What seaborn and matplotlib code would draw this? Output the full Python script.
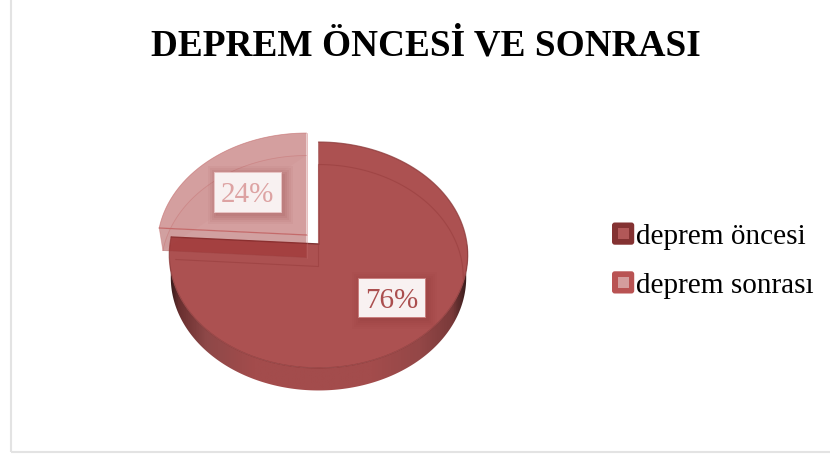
import numpy as np
import matplotlib
matplotlib.use("Agg")
import matplotlib.pyplot as plt
from matplotlib.colors import LinearSegmentedColormap
from matplotlib.legend_handler import HandlerBase
from matplotlib.lines import Line2D
from matplotlib.patches import FancyBboxPatch, Polygon, Rectangle
import seaborn as sns

# Survey shares
categories = ["deprem öncesi", "deprem sonrası"]
shares = [76, 24]
value_labels = ["76%", "24%"]
chart_title = "DEPREM ÖNCESİ VE SONRASI"

sns.set_theme(style="white")
plt.rcParams["font.family"] = ["Liberation Serif", "DejaVu Serif"]

MAIN = "#AC5151"
MAIN_LINE = "#8C3A3A"
LIGHT = "#D29A9A"
LIGHT_LINE = "#C46A6A"
LABEL_COLORS = ["#AB4F4F", "#DDA3A3"]
SWATCHES = [("#843232", "#B25858"), ("#B95353", "#D49D9D")]
SIDE_CMAP = LinearSegmentedColormap.from_list(
    "rim",
    [(0.0, "#3A1C1C"), (0.03, "#6A3030"), (0.12, "#8E4848"), (0.28, "#A34C4C"),
     (0.68, "#A34C4C"), (0.84, "#944747"), (0.95, "#7A3A3A"), (1.0, "#351A1A")])

fig = plt.figure(figsize=(8.3, 4.54), dpi=100)
ax = fig.add_axes([0, 0, 1, 1])
ax.axis("off")

# Slice angles come from pie(); the flat wedges are then tilted into a perspective disc
helper = fig.add_axes([0, 0, 0.01, 0.01])
wedges, _ = helper.pie(shares, startangle=90, counterclock=False)
angles = [(w.theta2, w.theta1) for w in wedges]
helper.remove()

CX, CY, RX, A, B = 318.5, 244.0, 148.5, 111.9, 0.0973
DEPTH = 22.5


def tilt(pts, dx=0.0, dy=0.0, shrink=1.0):
    u, v = pts[:, 0], pts[:, 1]
    d = 1 + B * v
    return np.column_stack([CX + dx + shrink * RX * u / d, CY + dy - A * v / d])


def wedge_outline(start, end, n=240):
    t = np.radians(np.linspace(start, end, n))
    return np.vstack([[0, 0], np.column_stack([np.cos(t), np.sin(t)])])


main_flat = wedge_outline(*angles[0])
small_flat = wedge_outline(*angles[1])

# Rim of the large slice: a horizontal gradient clipped to the band below the front edge
front = np.radians(np.linspace(angles[0][0] - 90, angles[0][1], 300))
front = front[(np.sin(front) < 0.03)]
front_flat = np.column_stack([np.cos(front), np.sin(front)])
rim_poly = np.vstack([tilt(front_flat), tilt(front_flat, dy=DEPTH, shrink=0.99)[::-1]])
gradient = ax.imshow(np.linspace(0, 1, 400).reshape(1, -1), cmap=SIDE_CMAP, aspect="auto",
                     extent=(CX - RX, CX + RX, 400, 230), zorder=2)
gradient.set_clip_path(Polygon(rim_poly, closed=True, transform=ax.transData))

ax.set_xlim(0, 830)
ax.set_ylim(454, 0)

# Chart frame: only the left and bottom edges are in view
ax.plot([11, 11], [0, 452], color="#E3E3E3", lw=1.5, solid_capstyle="butt")
ax.plot([11, 830], [452, 452], color="#E3E3E3", lw=1.5, solid_capstyle="butt")

# Large slice: top surface, then the faint outline of its underside
ax.add_patch(Polygon(tilt(main_flat), closed=True, fc=MAIN, ec="none", zorder=3))
ax.plot(*tilt(main_flat[1:]).T, color=MAIN_LINE, lw=0.9, alpha=0.75, zorder=4)
ax.plot(*tilt(main_flat[[0, -1]]).T, color="#7E3232", lw=1.0, zorder=4)
ax.plot(*tilt(main_flat[[0, 1]]).T, color=MAIN_LINE, lw=0.6, alpha=0.5, zorder=4)
under = tilt(main_flat, dy=DEPTH, shrink=0.97)
ax.plot(*under[np.r_[len(main_flat) - 1, 0, 1:86]].T, color="#983E3E", lw=0.8, alpha=0.6, zorder=4)

# Small slice pulled out of the disc, see-through where it crosses the large one
OFF = (-12.0, -9.0)
s_top = tilt(small_flat, dx=OFF[0], dy=OFF[1])
s_bot = tilt(small_flat, dx=OFF[0], dy=OFF[1] + DEPTH, shrink=0.975)
wall = np.vstack([s_top[[0, 1]], s_bot[[1, 0]]])
ax.add_patch(Polygon(wall, closed=True, fc=(155 / 255, 45 / 255, 45 / 255), ec="none", alpha=0.45, zorder=5))
ax.add_patch(Polygon(s_top, closed=True, fc=LIGHT, ec="none", alpha=0.95, zorder=5))
ax.add_patch(Polygon(s_bot[1:], closed=True, fc="#B55C5C", ec="none", alpha=0.05, zorder=5))
ax.plot(*s_top[[0, 1]].T, color=LIGHT_LINE, lw=0.9, zorder=6)
ax.plot(*s_top[1:].T, color=LIGHT_LINE, lw=0.6, alpha=0.6, zorder=6)
ax.plot(*s_top[[-1, 0]].T, color=LIGHT_LINE, lw=0.6, alpha=0.5, zorder=6)
ax.plot(*s_bot[1:].T, color=LIGHT_LINE, lw=0.6, alpha=0.4, zorder=6)
ax.plot(*s_bot[[0, 1]].T, color="#993F3F", lw=0.6, alpha=0.4, zorder=6)
ax.plot(*np.vstack([s_top[0], s_bot[0]]).T, color=LIGHT_LINE, lw=0.6, alpha=0.4, zorder=6)
ax.plot(*np.vstack([s_top[1], s_bot[1]]).T, color=LIGHT_LINE, lw=0.6, alpha=0.4, zorder=6)

# Value labels on soft-shadowed plates
plates = [(358, 278, 67, 39), (214, 172, 67, 40)]
plate_edges = ["#C98080", "#E8C4C4"]
for (x, y, w, h), txt, col, edge in zip(plates, value_labels, LABEL_COLORS, plate_edges):
    for grow, alpha in zip([9, 7, 5, 3, 1], [0.05, 0.06, 0.07, 0.08, 0.09]):
        ax.add_patch(Rectangle((x + 3 - grow, y + 3 - grow), w + 2 * grow, h + 2 * grow,
                               fc="#8C3A3A", ec="none", alpha=alpha, zorder=7))
    ax.add_patch(Rectangle((x, y), w, h, fc="#F8F1F1", ec=edge, lw=0.7, zorder=8))
    ax.text(x + w / 2, y + h / 2 + 3, txt, color=col, fontsize=21,
            ha="center", va="center", zorder=9)

ax.text(425.5, 45.5, chart_title, fontsize=26.8, fontweight="bold", color="black",
        ha="center", va="center")


class NestedSquare(HandlerBase):
    """Legend key: a rounded outer square holding a lighter inner square."""

    def __init__(self, outer, inner):
        super().__init__()
        self.outer, self.inner = outer, inner

    def create_artists(self, legend, orig_handle, xdescent, ydescent, width, height, fontsize, trans):
        side = 16.0
        x0, y0 = -xdescent, -ydescent + (height - side) / 2
        box = FancyBboxPatch((x0 + 1, y0 + 1), side - 2, side - 2, boxstyle="round,pad=1,rounding_size=2",
                             fc=self.outer, ec="none", transform=trans)
        core = Rectangle((x0 + 4, y0 + 4), side - 8, side - 8, fc=self.inner, ec="none", transform=trans)
        return [box, core]


handles = [Line2D([], [], label=c) for c in categories]
leg = ax.legend(handles=handles, loc="center left", bbox_to_anchor=(612 / 830, 1 - 261 / 454),
                frameon=False, fontsize=21.1, handlelength=0.74, handleheight=0.7, handletextpad=0.07,
                labelspacing=0.76, borderpad=0, borderaxespad=0,
                handler_map={h: NestedSquare(*s) for h, s in zip(handles, SWATCHES)})
for t in leg.get_texts():
    t.set_color("black")

fig.savefig("out.png", dpi=100)
